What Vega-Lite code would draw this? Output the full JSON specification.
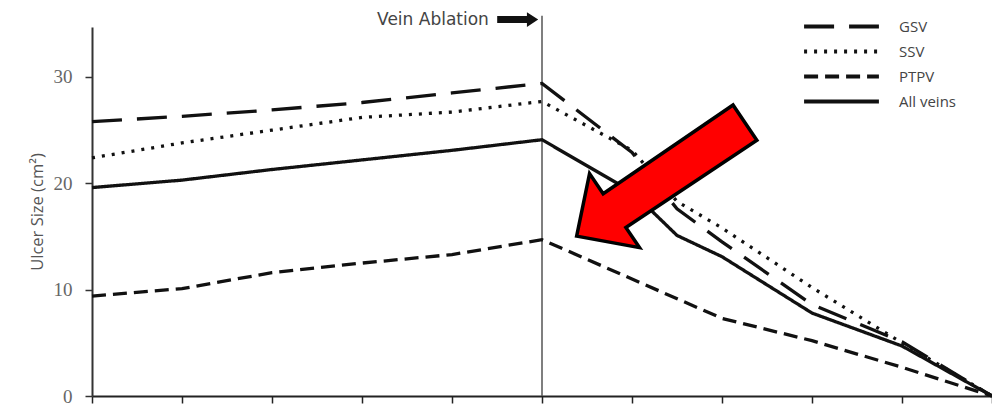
{
  "$schema": "https://vega.github.io/schema/vega-lite/v6.json",
  "width": 900,
  "height": 369,
  "autosize": {"type": "none"},
  "padding": {"left": 92, "top": 27, "right": 0, "bottom": 11},
  "background": "white",
  "config": {"view": {"stroke": null}, "font": "Open Sans"},
  "datasets": {
    "series": [
      {"series": "GSV", "x": 0, "y": 25.8},
      {"series": "GSV", "x": 1, "y": 26.3},
      {"series": "GSV", "x": 2, "y": 26.9},
      {"series": "GSV", "x": 3, "y": 27.6},
      {"series": "GSV", "x": 4, "y": 28.5},
      {"series": "GSV", "x": 5, "y": 29.4},
      {"series": "GSV", "x": 6, "y": 22.9},
      {"series": "GSV", "x": 6.5, "y": 17.6},
      {"series": "GSV", "x": 7, "y": 14.5},
      {"series": "GSV", "x": 8, "y": 8.6},
      {"series": "GSV", "x": 9, "y": 5.1},
      {"series": "GSV", "x": 10, "y": 0},
      {"series": "SSV", "x": 0, "y": 22.4},
      {"series": "SSV", "x": 1, "y": 23.8},
      {"series": "SSV", "x": 2, "y": 25.0},
      {"series": "SSV", "x": 3, "y": 26.2},
      {"series": "SSV", "x": 4, "y": 26.7},
      {"series": "SSV", "x": 5, "y": 27.7},
      {"series": "SSV", "x": 6, "y": 23.1},
      {"series": "SSV", "x": 6.5, "y": 18.3},
      {"series": "SSV", "x": 7, "y": 15.8},
      {"series": "SSV", "x": 8, "y": 10.2},
      {"series": "SSV", "x": 9, "y": 5.0},
      {"series": "SSV", "x": 10, "y": 0},
      {"series": "PTPV", "x": 0, "y": 9.4},
      {"series": "PTPV", "x": 1, "y": 10.1},
      {"series": "PTPV", "x": 2, "y": 11.6},
      {"series": "PTPV", "x": 3, "y": 12.5},
      {"series": "PTPV", "x": 4, "y": 13.3},
      {"series": "PTPV", "x": 5, "y": 14.7},
      {"series": "PTPV", "x": 6, "y": 11.0},
      {"series": "PTPV", "x": 7, "y": 7.3},
      {"series": "PTPV", "x": 8, "y": 5.2},
      {"series": "PTPV", "x": 9, "y": 2.7},
      {"series": "PTPV", "x": 10, "y": 0},
      {"series": "All veins", "x": 0, "y": 19.6},
      {"series": "All veins", "x": 1, "y": 20.3},
      {"series": "All veins", "x": 2, "y": 21.3},
      {"series": "All veins", "x": 3, "y": 22.2},
      {"series": "All veins", "x": 4, "y": 23.1},
      {"series": "All veins", "x": 5, "y": 24.1},
      {"series": "All veins", "x": 6, "y": 19.2},
      {"series": "All veins", "x": 6.5, "y": 15.1},
      {"series": "All veins", "x": 7, "y": 13.1},
      {"series": "All veins", "x": 8, "y": 7.8},
      {"series": "All veins", "x": 9, "y": 4.7},
      {"series": "All veins", "x": 10, "y": 0}
    ],
    "ablation": [{"x": 5, "y": 0, "y2": 35.75}],
    "label": [{"x": 4.41, "y": 35.4, "text": "Vein Ablation"}],
    "smallArrow": [{"x": 4.73, "y": 35.4}],
    "bigArrow": [{"x": 6.32, "y": 20.37}]
  },
  "layer": [
    {
      "data": {"name": "ablation"},
      "mark": {"type": "rule", "color": "#555", "strokeWidth": 1.5},
      "encoding": {
        "x": {"field": "x", "type": "quantitative"},
        "y": {"field": "y", "type": "quantitative"},
        "y2": {"field": "y2"}
      }
    },
    {
      "data": {"name": "series"},
      "mark": {"type": "line", "strokeWidth": 3.3, "color": "#111"},
      "encoding": {
        "x": {
          "field": "x",
          "type": "quantitative",
          "scale": {"domain": [0, 10], "nice": false, "zero": false},
          "axis": {
            "title": null,
            "values": [0, 1, 2, 3, 4, 5, 6, 7, 8, 9, 10],
            "labels": false,
            "grid": false,
            "tickSize": 7,
            "tickWidth": 1.5,
            "tickColor": "#222",
            "domainColor": "#222",
            "domainWidth": 2
          }
        },
        "y": {
          "field": "y",
          "type": "quantitative",
          "scale": {"domain": [0, 34.7], "nice": false, "zero": true},
          "axis": {
            "title": "Ulcer Size (cm²)",
            "titleFont": "Open Sans",
            "titleFontSize": 16.5,
            "titleFontWeight": "normal",
            "titleColor": "#555",
            "titlePadding": 8,
            "values": [0, 10, 20, 30],
            "grid": false,
            "labelFont": "Liberation Serif",
            "labelFontSize": 19,
            "labelColor": "#666",
            "labelPadding": 13,
            "tickSize": 7,
            "tickWidth": 1.5,
            "tickColor": "#333",
            "domainColor": "#333",
            "domainWidth": 2
          }
        },
        "strokeDash": {
          "field": "series",
          "type": "nominal",
          "scale": {
            "domain": ["GSV", "SSV", "PTPV", "All veins"],
            "range": [[30, 15], [3, 7], [14, 7], [1, 0]]
          },
          "legend": {
            "title": null,
            "orient": "none",
            "legendX": 738,
            "legendY": -12,
            "padding": 0,
            "symbolType": "M-4,0H4",
            "symbolSize": 350,
            "symbolStrokeWidth": 4,
            "symbolStrokeColor": "#111",
            "symbolFillColor": "transparent",
            "labelOffset": 46,
            "labelFont": "Open Sans",
            "labelFontSize": 15,
            "labelColor": "#444",
            "rowPadding": 5
          }
        }
      }
    },
    {
      "data": {"name": "label"},
      "mark": {"type": "text", "align": "right", "baseline": "middle", "font": "DejaVu Sans", "fontSize": 17, "color": "#444"},
      "encoding": {
        "x": {"field": "x", "type": "quantitative"},
        "y": {"field": "y", "type": "quantitative"},
        "text": {"field": "text"}
      }
    },
    {
      "data": {"name": "smallArrow"},
      "mark": {
        "type": "point",
        "shape": "M-1,-0.17 L0.45,-0.17 L0.45,-0.36 L1,0 L0.45,0.36 L0.45,0.17 L-1,0.17 Z",
        "size": 1681,
        "filled": true,
        "fill": "#111",
        "strokeWidth": 0,
        "opacity": 1
      },
      "encoding": {
        "x": {"field": "x", "type": "quantitative"},
        "y": {"field": "y", "type": "quantitative"}
      }
    },
    {
      "data": {"name": "bigArrow"},
      "mark": {
        "type": "point",
        "shape": "M1,0 L0.55,-0.44 L0.55,-0.2 L-1,-0.21 L-1,0.21 L0.55,0.2 L0.55,0.44 Z",
        "size": 41209,
        "angle": 146,
        "filled": true,
        "fill": "#ff0000",
        "stroke": "#000",
        "strokeWidth": 3.5,
        "strokeJoin": "miter",
        "opacity": 1
      },
      "encoding": {
        "x": {"field": "x", "type": "quantitative"},
        "y": {"field": "y", "type": "quantitative"}
      }
    }
  ]
}
